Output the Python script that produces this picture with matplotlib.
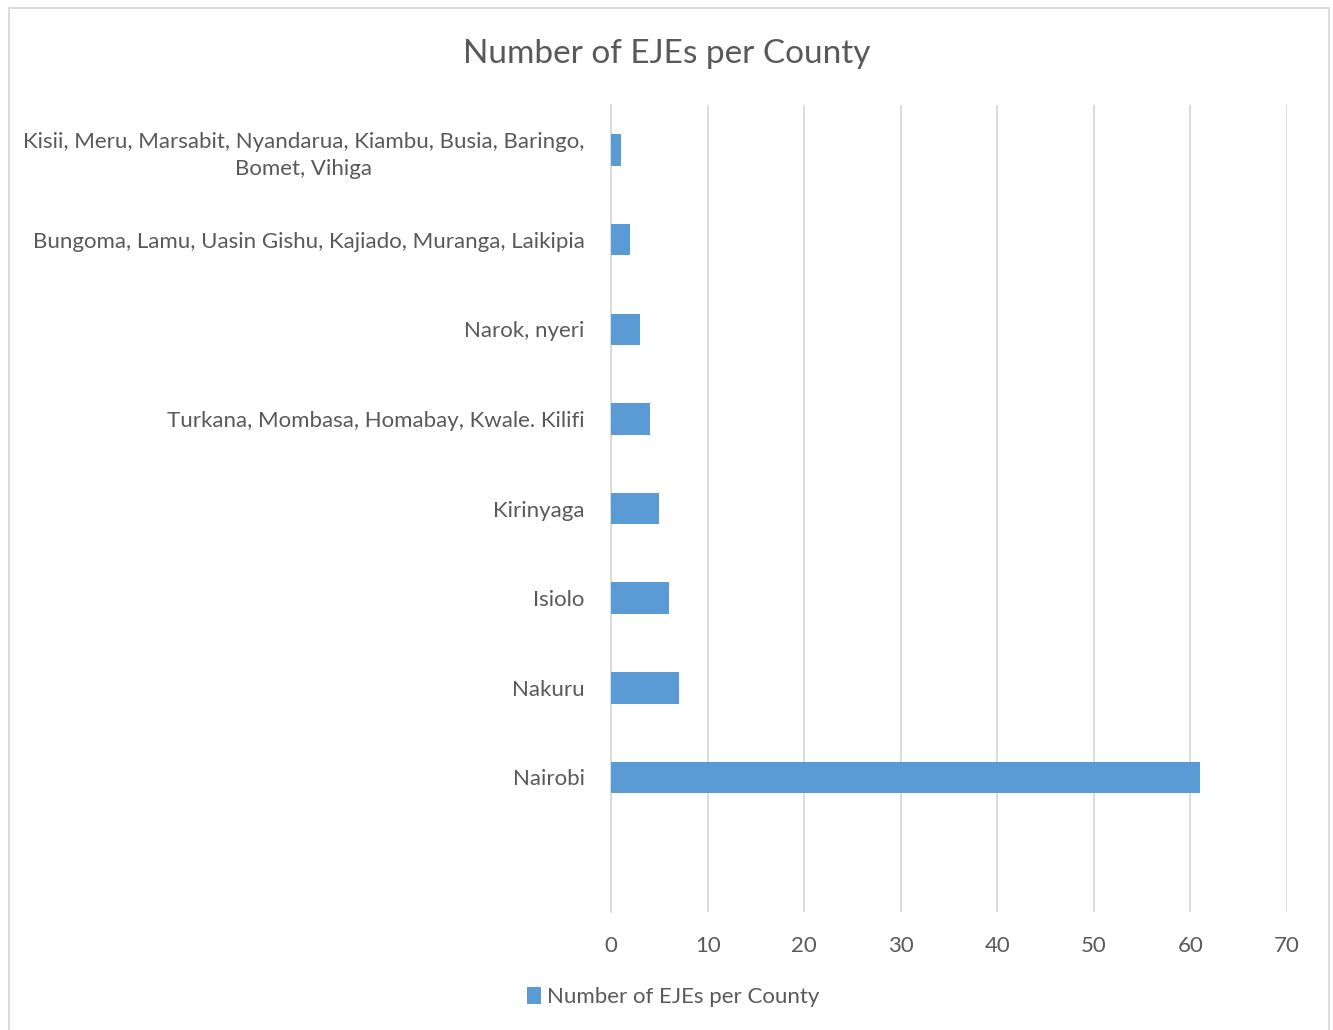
import matplotlib.pyplot as plt
from matplotlib.patches import Rectangle

# Excel-style bar chart of EJE counts by county
counties = [
    "",
    "Nairobi",
    "Nakuru",
    "Isiolo",
    "Kirinyaga",
    "Turkana, Mombasa, Homabay, Kwale. Kilifi",
    "Narok, nyeri",
    "Bungoma, Lamu, Uasin Gishu, Kajiado, Muranga, Laikipia",
    "Kisii, Meru, Marsabit, Nyandarua, Kiambu, Busia, Baringo,\nBomet, Vihiga",
]
ejes = [0, 61, 7, 6, 5, 4, 3, 2, 1]
xticks = [0, 10, 20, 30, 40, 50, 60, 70]

series_name = "Number of EJEs per County"
bar_color = "#5B9BD5"
text_color = "#595959"
grid_color = "#D9D9D9"

plt.rcParams['font.family'] = ['Lato', 'DejaVu Sans']

fig = plt.figure(figsize=(13.33, 10.30), dpi=100)
ax = fig.add_axes([0.4584, 0.1146, 0.5071, 0.7834])

pos = list(range(len(counties)))
ax.barh(pos, ejes, height=0.35, color=bar_color, label=series_name, zorder=3)

ax.set_xlim(0, 70)
ax.set_ylim(-0.5, len(counties) - 0.5)
ax.set_xticks(xticks)
ax.set_xticklabels([str(t) for t in xticks], fontsize=16, color=text_color)
ax.set_yticks(pos)
ax.set_yticklabels(counties, fontsize=16, color=text_color)
for lbl in ax.get_yticklabels():
    lbl.set_multialignment('center')
    lbl.set_linespacing(1.45)
ax.tick_params(length=0)
ax.tick_params(axis='x', pad=17)
ax.tick_params(axis='y', pad=19)

ax.grid(axis='x', color=grid_color, linewidth=1.3, zorder=0)
for side in ['top', 'right', 'bottom']:
    ax.spines[side].set_visible(False)
ax.spines['left'].set_color(grid_color)
ax.spines['left'].set_linewidth(1.3)

fig.text(0.5, 1 - 54 / 1030, "Number of EJEs per County", ha='center', va='center',
         fontsize=24, color=text_color)

fig.legend(loc='center', bbox_to_anchor=(0.505, 1 - 997 / 1030), frameon=False,
           fontsize=16, labelcolor=text_color, handlelength=0.65, handleheight=0.85,
           handletextpad=0.25)

# chart border
fig.patches.append(Rectangle((9 / 1333, -0.01), 1320 / 1333, 1 - 8 / 1030 + 0.01,
                             transform=fig.transFigure, fill=False,
                             edgecolor=grid_color, linewidth=1.3))

plt.savefig('out.png', dpi=100)
